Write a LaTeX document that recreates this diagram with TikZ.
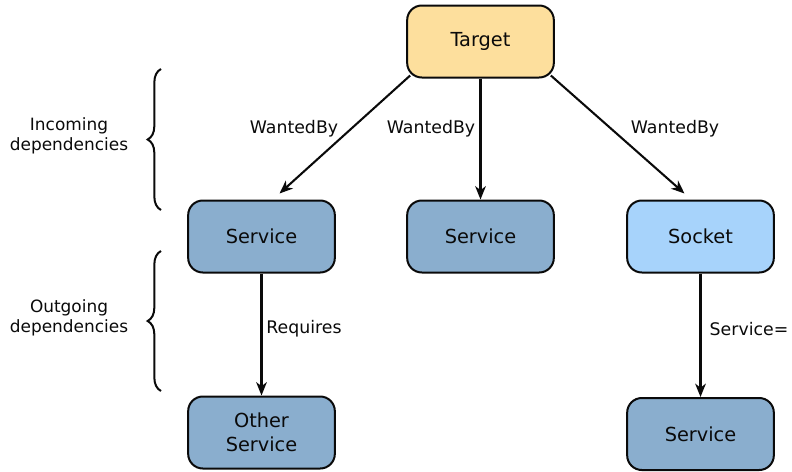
\documentclass[tikz,border=0pt]{standalone}
\usepackage{fontspec}
\setmainfont{DejaVu Sans}
\usetikzlibrary{arrows.meta,calc,decorations.pathreplacing}
\definecolor{targetfill}{HTML}{FDDF9D}
\definecolor{servicefill}{HTML}{8AAECE}
\definecolor{socketfill}{HTML}{A7D3FB}
\definecolor{ink}{HTML}{0A0A0A}
\begin{document}
\begin{tikzpicture}[x=0.75pt,y=-0.75pt,
  unit/.style={draw=ink,line width=1.5pt,rounded corners=11pt,
    minimum width=110pt,minimum height=54pt,align=center,
    font=\fontsize{14.5}{18}\selectfont,text=ink},
  target/.style={unit,fill=targetfill},
  service/.style={unit,fill=servicefill},
  socket/.style={unit,fill=socketfill},
  dep/.style={draw=ink,line width=1.55pt,-{Stealth[length=10pt,width=8pt,inset=3pt]}},
  lbl/.style={font=\fontsize{13}{15}\selectfont,text=ink},
  grp/.style={font=\fontsize{12.7}{15}\selectfont,text=ink,align=center},
  curly/.style={draw=ink,line width=1.5pt,decorate,decoration={brace,amplitude=10pt}}]
\useasboundingbox (0,0) rectangle (792,471);

% units
\node[target]  (T)  at (480.5,41.5) {Target};
\node[service] (S1) at (261.5,236.5) {Service};
\node[service] (S2) at (480.5,236.5) {Service};
\node[socket]  (K)  at (700.5,236.5) {Socket};
\node[service] (O)  at (261.5,432.5) {Other\\Service};
\node[service] (S3) at (700.5,434) {Service};

% incoming dependencies
\coordinate (t1) at ($(T.south west)+(4,-3)$);
\coordinate (e1) at ($(S1.north)+(18,-6)$);
\draw[dep] (t1) -- (e1);
\draw[dep] (T.south) -- (S2.north);
\coordinate (t3) at ($(T.south east)+(-4,-3)$);
\coordinate (e3) at ($(K.north)+(-16,-6)$);
\draw[dep] (t3) -- (e3);

% outgoing dependencies
\draw[dep] (S1.south) -- (O.north);
\draw[dep] (K.south) -- (S3.north);

% edge labels
\node[lbl] (w1) at (294,129) {WantedBy};
\node[lbl] (w2) at (431,129) {WantedBy};
\node[lbl] (w3) at (675,129) {WantedBy};
\node[lbl] (rq) at (304,329) {Requires};
\node[lbl] (sv) at (749,329) {Service=};

% group braces
\coordinate (b1a) at (161,210);
\coordinate (b1b) at (161,69);
\draw[curly] (b1a) -- (b1b);
\coordinate (b2a) at (161,391);
\coordinate (b2b) at (161,251);
\draw[curly] (b2a) -- (b2b);
\node[grp] (gi) at (69,136) {Incoming\\dependencies};
\node[grp] (go) at (69,318) {Outgoing\\dependencies};
\end{tikzpicture}
\end{document}
